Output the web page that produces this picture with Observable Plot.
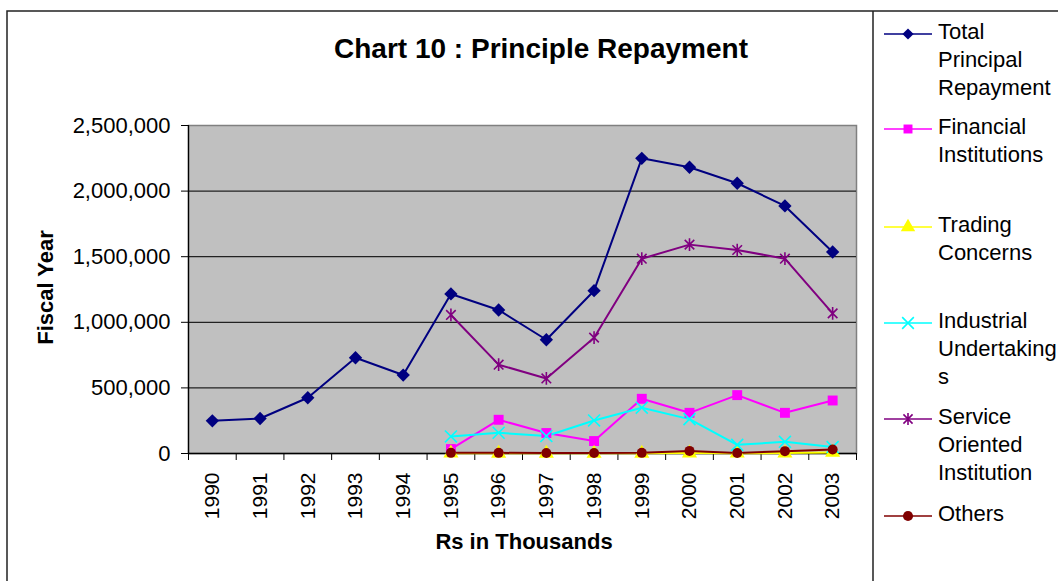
<!DOCTYPE html>
<html>
<head>
<meta charset="utf-8">
<script src="https://cdn.jsdelivr.net/npm/d3@7"></script>
<script src="https://cdn.jsdelivr.net/npm/@observablehq/plot@0.6"></script>
<style>
  html, body { margin: 0; padding: 0; background: #fff; }
  #chart { width: 1058px; height: 581px; overflow: hidden; }
  svg { display: block; }
</style>
</head>
<body>
<div id="chart"></div>
<script>
// ---- data (Rs in thousands) ----
const years = [1990, 1991, 1992, 1993, 1994, 1995, 1996, 1997, 1998, 1999, 2000, 2001, 2002, 2003];
const totalPrincipalRepayment = [249000, 267000, 425000, 730000, 598000, 1216000, 1094000, 867000, 1241000, 2250000, 2182000, 2060000, 1887000, 1536000];
const financialInstitutions = [null, null, null, null, null, 34000, 257000, 156000, 95000, 417000, 310000, 445000, 310000, 404000];
const tradingConcerns = [null, null, null, null, null, 2000, 1000, 1000, 1000, 1000, 3000, 2000, 3000, 8000];
const industrialUndertakings = [null, null, null, null, null, 130000, 158000, 133000, 252000, 349000, 262000, 66000, 89000, 49000];
const serviceOrientedInstitution = [null, null, null, null, null, 1056000, 677000, 572000, 883000, 1485000, 1592000, 1551000, 1485000, 1068000];
const others = [null, null, null, null, null, 5000, 5000, 4000, 4000, 5000, 20000, 4000, 18000, 30000];

const seriesNames = ["Total Principal Repayment", "Financial Institutions", "Trading Concerns", "Industrial Undertakings", "Service Oriented Institution", "Others"];
const legendLines = [["Total", "Principal", "Repayment"], ["Financial", "Institutions"], ["Trading", "Concerns"], ["Industrial", "Undertaking", "s"], ["Service", "Oriented", "Institution"], ["Others"]];
const yTicks = [0, 500000, 1000000, 1500000, 2000000, 2500000];
const titleText = "Chart 10 : Principle Repayment";
const xTitle = "Rs in Thousands";
const yTitle = "Fiscal Year";

// ---- styles ----
const asteriskSymbol = {
  draw(ctx, size) {
    const r = Math.sqrt(size) * 0.58;
    const d = r * 0.75;
    ctx.moveTo(0, -r); ctx.lineTo(0, r);
    ctx.moveTo(-d, -d); ctx.lineTo(d, d);
    ctx.moveTo(-d, d); ctx.lineTo(d, -d);
  }
};
const styles = [
  {color: "#000080", symbol: "diamond2", r: 6, filled: true, d3sym: d3.symbolDiamond2, lsize: 80},
  {color: "#FF00FF", symbol: "square", r: 5.6, filled: true, d3sym: d3.symbolSquare, lsize: 80},
  {color: "#FFFF00", symbol: "triangle", r: 5.6, filled: true, d3sym: d3.symbolTriangle, lsize: 90},
  {color: "#00FFFF", symbol: "times", r: 5.5, filled: false, d3sym: d3.symbolTimes, lsize: 90},
  {color: "#800080", symbol: asteriskSymbol, r: 6.2, filled: false, d3sym: asteriskSymbol, lsize: 110},
  {color: "#800000", symbol: "circle", r: 5, filled: true, d3sym: d3.symbolCircle, lsize: 80}
];

const seriesValues = [totalPrincipalRepayment, financialInstitutions, tradingConcerns, industrialUndertakings, serviceOrientedInstitution, others];
const rows = [];
seriesNames.forEach((name, i) => {
  years.forEach((yr, j) => {
    const v = seriesValues[i][j];
    if (v != null) rows.push({series: name, idx: i, year: yr, value: v});
  });
});

const boundaries = d3.range(years[0] - 0.5, years[years.length - 1] + 1, 1);

const seriesMarks = [];
seriesNames.forEach((name, i) => {
  const data = rows.filter(d => d.idx === i);
  const s = styles[i];
  seriesMarks.push(Plot.line(data, {x: "year", y: "value", stroke: s.color, strokeWidth: 2}));
});
seriesNames.forEach((name, i) => {
  const data = rows.filter(d => d.idx === i);
  const s = styles[i];
  seriesMarks.push(Plot.dot(data, s.filled
    ? {x: "year", y: "value", symbol: () => s.symbol, fill: s.color, stroke: "none", r: s.r}
    : {x: "year", y: "value", symbol: () => s.symbol, fill: "none", stroke: s.color, strokeWidth: 1.6, r: s.r}));
});

const plot = Plot.plot({
  width: 1058,
  height: 581,
  marginLeft: 188,
  marginRight: 202,
  marginTop: 125,
  marginBottom: 128,
  style: {fontFamily: "'Liberation Sans', Arial, sans-serif", fontSize: "22px", color: "#000", background: "#fff"},
  x: {type: "linear", domain: [years[0] - 0.5, years[years.length - 1] + 0.5]},
  y: {domain: [yTicks[0], yTicks[yTicks.length - 1]]},
  symbol: {type: "identity"},
  marks: [
    Plot.frame({fill: "#C0C0C0", stroke: "#808080", strokeWidth: 1.5}),
    Plot.ruleY(yTicks.filter(t => t > 0 && t < yTicks[yTicks.length - 1]), {stroke: "#222", strokeWidth: 1.3}),
    Plot.ruleY([0], {stroke: "#000", strokeWidth: 1.3}),
    Plot.ruleX([years[0] - 0.5], {stroke: "#000", strokeWidth: 1.3}),
    Plot.axisY({ticks: yTicks, tickFormat: d3.format(","), tickSize: 7, tickPadding: 11, label: null, fontSize: 22, stroke: "#000"}),
    Plot.axisX({ticks: boundaries, tickSize: 7, tickFormat: () => "", label: null, stroke: "#000"}),
    Plot.axisX({ticks: years, tickSize: 0, tickPadding: 19, tickRotate: -90, tickFormat: d3.format("d"), label: null, fontSize: 21}),
    ...seriesMarks
  ]
});

document.getElementById("chart").appendChild(plot);

// ---- decorations: border, title, axis titles, legend ----
const svg = d3.select(plot);
const deco = svg.append("g").attr("font-family", "'Liberation Sans', Arial, sans-serif").attr("fill", "#000").attr("text-anchor", "start");
deco.append("path").attr("d", "M7,581V11H1058M873,11V581").attr("fill", "none").attr("stroke", "#222").attr("stroke-width", 1.5);
deco.append("text").attr("x", 541).attr("y", 58).attr("text-anchor", "middle").attr("font-size", 28).attr("font-weight", "bold").text(titleText);
deco.append("text").attr("x", 524).attr("y", 549).attr("text-anchor", "middle").attr("font-size", 22).attr("font-weight", "bold").text(xTitle);
deco.append("text").attr("transform", "translate(53,287.5) rotate(-90)").attr("text-anchor", "middle").attr("font-size", 22).attr("font-weight", "bold").text(yTitle);

const legendY = [34, 129, 227, 323, 419, 516];
seriesNames.forEach((name, i) => {
  const s = styles[i];
  const g = deco.append("g").attr("transform", `translate(0,${legendY[i]})`);
  g.append("line").attr("x1", 884).attr("x2", 932).attr("y1", 0).attr("y2", 0).attr("stroke", s.color).attr("stroke-width", 1.5);
  const sym = d3.symbol().type(s.d3sym).size(s.lsize);
  const p = g.append("path").attr("transform", "translate(908,0)").attr("d", sym());
  if (s.filled) p.attr("fill", s.color); else p.attr("fill", "none").attr("stroke", s.color).attr("stroke-width", 1.6);
  const t = g.append("text").attr("x", 938).attr("y", 5).attr("font-size", 22).attr("text-anchor", "start");
  legendLines[i].forEach((ln, k) => {
    t.append("tspan").attr("x", 938).attr("dy", k === 0 ? 0 : 28).text(ln);
  });
});
</script>
</body>
</html>
